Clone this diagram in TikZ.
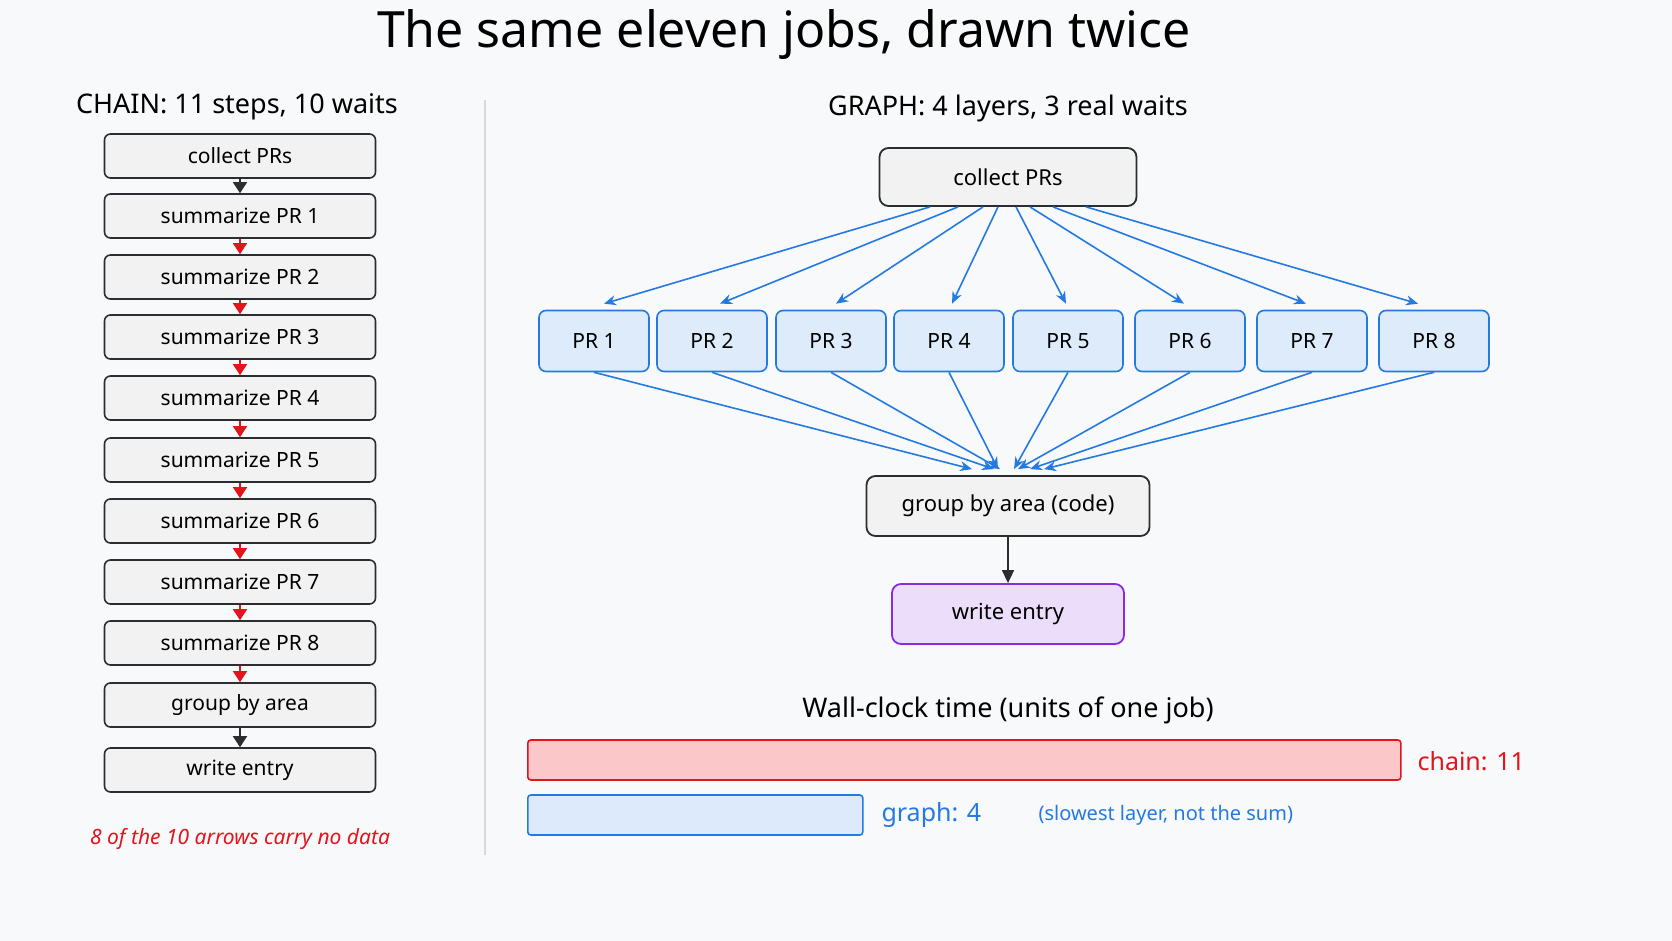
\documentclass[tikz,border=0pt]{standalone}
\usepackage{fontspec}
\setmainfont{Noto Sans}
\usepackage{tikz}
\usetikzlibrary{positioning, arrows.meta, calc}
\definecolor{bg}{HTML}{F8F9FA}
\definecolor{boxgray}{HTML}{F2F2F3}
\definecolor{edge}{HTML}{2B2D31}
\definecolor{prfill}{HTML}{DDEBFB}
\definecolor{prblue}{HTML}{2479E3}
\definecolor{wfill}{HTML}{ECDDFB}
\definecolor{wedge}{HTML}{8A2BE2}
\definecolor{chred}{HTML}{E3141C}
\definecolor{chfill}{HTML}{FBC7C9}
\definecolor{grfill}{HTML}{DCEAFB}
\begin{document}
\begin{tikzpicture}[x=1pt, y=-1pt,
    chainstep/.style={rectangle, draw=edge, line width=1.6pt, fill=boxgray, rounded corners=6pt, minimum width=271pt, minimum height=44pt, font=\fontsize{21}{24}\selectfont},
    job/.style={rectangle, draw=prblue, line width=1.6pt, fill=prfill, rounded corners=7pt, minimum width=110pt, minimum height=61pt, font=\fontsize{21}{24}\selectfont},
    big/.style={rectangle, draw=edge, line width=1.8pt, fill=boxgray, rounded corners=9pt, minimum height=58pt, font=\fontsize{22}{26}\selectfont},
    head/.style={font=\fontsize{27}{32}\selectfont\bfseries},
    wait/.style={-{Triangle[length=11pt, width=14pt]}, line width=1.6pt},
    fan/.style={-{Stealth[length=12pt, width=10pt]}, line width=1.6pt, draw=prblue}
]
\fill[bg] (0,0) rectangle (1672,941);

\node[font=\fontsize{50}{56}\selectfont\bfseries] (title) at (784,35) {The same eleven jobs, drawn twice};

% chain side
\node[head] (chainhead) at (237,107) {CHAIN: 11 steps, 10 waits};
\node[chainstep] (c0) at (240,156) {collect PRs};
\foreach \i/\y in {1/216, 2/277, 3/337, 4/398, 5/460, 6/521, 7/582, 8/643}
  \node[chainstep] (c\i) at (240,\y) {summarize PR \i};
\node[chainstep] (c9) at (240,705) {group by area};
\node[chainstep] (c10) at (240,770) {write entry};
\draw[wait, edge] (c0) -- (c1);
\foreach \i [evaluate=\i as \j using int(\i+1)] in {1,...,8}
  \draw[wait, draw=chred, fill=chred] (c\i) -- (c\j);
\draw[wait, edge] (c9) -- (c10);
\node[text=chred, font=\fontsize{21}{24}\selectfont\itshape] (note) at (240,839) {8 of the 10 arrows carry no data};

\draw[black!15, line width=1.2pt] (485,100) -- (485,855);

% graph side
\node[head] (graphhead) at (1008,108) {GRAPH: 4 layers, 3 real waits};
\node[big, minimum width=257pt] (collect) at (1008,177) {collect PRs};
\foreach \i/\x in {1/594, 2/712, 3/831, 4/949, 5/1068, 6/1190, 7/1312, 8/1434}
  \node[job] (pr\i) at (\x,341) {PR \i};
\node[big, minimum width=283pt, minimum height=60pt] (group) at (1008,506) {group by area (code)};
\node[big, draw=wedge, fill=wfill, minimum width=232pt, minimum height=60pt] (write) at (1008,614) {write entry};

\foreach \i/\s/\t in {1/-78/10, 2/-50/8, 3/-25/5, 4/-10/3, 5/8/-2, 6/22/-6, 7/45/-6, 8/78/-16}
  \draw[fan] ($(collect.south)+(\s,0)$) -- ($(pr\i.north)+(\t,-6)$);
\foreach \i/\t in {1/-36, 2/-14, 3/-8, 4/-10, 5/6, 6/10, 7/22, 8/36}
  \draw[fan] (pr\i.south) -- ($(group.north)+(\t,-6)$);
\draw[wait, edge, -{Triangle[length=13pt, width=12pt]}] (group) -- (write);

% wall clock
\node[head] (clockhead) at (1008,710) {Wall-clock time (units of one job)};
\node[draw=chred, fill=chfill, line width=1.6pt, rounded corners=3pt, minimum width=873pt, minimum height=40pt, anchor=west] (chainbar) at (527,760) {};
\node[draw=prblue, fill=grfill, line width=1.6pt, rounded corners=3pt, minimum width=335pt, minimum height=40pt, anchor=west] (graphbar) at (527,815) {};
\node[text=chred, font=\fontsize{25}{30}\selectfont, anchor=west] (chainlab) at (1414,761) {chain: 11};
\node[text=prblue, font=\fontsize{25}{30}\selectfont, anchor=west] (graphlab) at (878,815) {graph: 4};
\node[text=prblue, font=\fontsize{20}{24}\selectfont, anchor=west] (graphnote) at (1035,815) {(slowest layer, not the sum)};
\end{tikzpicture}
\end{document}
